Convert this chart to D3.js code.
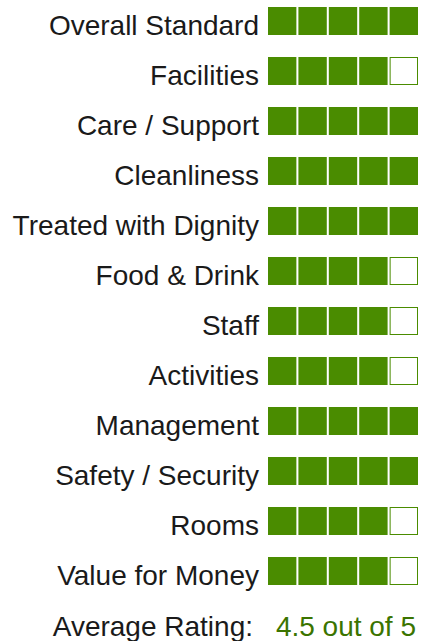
<!DOCTYPE html>
<html>
<head>
<meta charset="utf-8">
<script src="https://cdn.jsdelivr.net/npm/d3@7"></script>
<style>
body { margin:0; background:#fff; }
text { font-family: "Liberation Sans", Arial, sans-serif; }
</style>
</head>
<body>
<div id="chart"></div>
<script>
var width = 426;
var height = 641;

var categories = ["Overall Standard", "Facilities", "Care / Support", "Cleanliness",
  "Treated with Dignity", "Food & Drink", "Staff", "Activities", "Management",
  "Safety / Security", "Rooms", "Value for Money"];
var ratings = [5, 4, 5, 5, 5, 4, 4, 4, 5, 5, 4, 4];
var maxRating = 5;
var averageRating = 4.5;

var green = "#4a8c00";

var svg = d3.select("#chart").append("svg").attr("width", width).attr("height", height);

// rows: 28px squares, 50px pitch
var y = d3.scaleBand().domain(categories).range([7, 585]).paddingInner(0.44).paddingOuter(0);
var x = d3.scaleBand().domain(d3.range(1, maxRating + 1)).range([268, 418]).paddingInner(2 / 30).paddingOuter(0);

var rows = svg.selectAll("g.row").data(categories).enter().append("g")
  .attr("class", "row")
  .attr("transform", function(d) { return "translate(0," + y(d) + ")"; });

rows.append("text")
  .attr("x", 259)
  .attr("y", y.bandwidth() / 2 + 13.5)
  .attr("text-anchor", "end")
  .attr("font-size", 28)
  .attr("fill", "#1a1a1a")
  .text(function(d) { return d; });

rows.each(function(d, i) {
  var g = d3.select(this);
  g.selectAll("rect").data(d3.range(1, maxRating + 1)).enter().append("rect")
    .attr("x", function(k) { return k <= ratings[i] ? x(k) : x(k) + 0.5; })
    .attr("y", function(k) { return k <= ratings[i] ? 0 : 0.5; })
    .attr("width", function(k) { return k <= ratings[i] ? x.bandwidth() : x.bandwidth() - 1; })
    .attr("height", function(k) { return k <= ratings[i] ? y.bandwidth() : y.bandwidth() - 1; })
    .attr("fill", function(k) { return k <= ratings[i] ? green : "#fff"; })
    .attr("stroke", function(k) { return k <= ratings[i] ? "none" : green; })
    .attr("stroke-width", 1);
});

svg.append("text")
  .attr("x", 253).attr("y", 636)
  .attr("text-anchor", "end")
  .attr("font-size", 28)
  .attr("fill", "#1a1a1a")
  .text("Average Rating:");

svg.append("text")
  .attr("x", 416).attr("y", 636)
  .attr("text-anchor", "end")
  .attr("font-size", 28)
  .attr("fill", "#3b7400")
  .text(averageRating + " out of " + maxRating);
</script>
</body>
</html>
